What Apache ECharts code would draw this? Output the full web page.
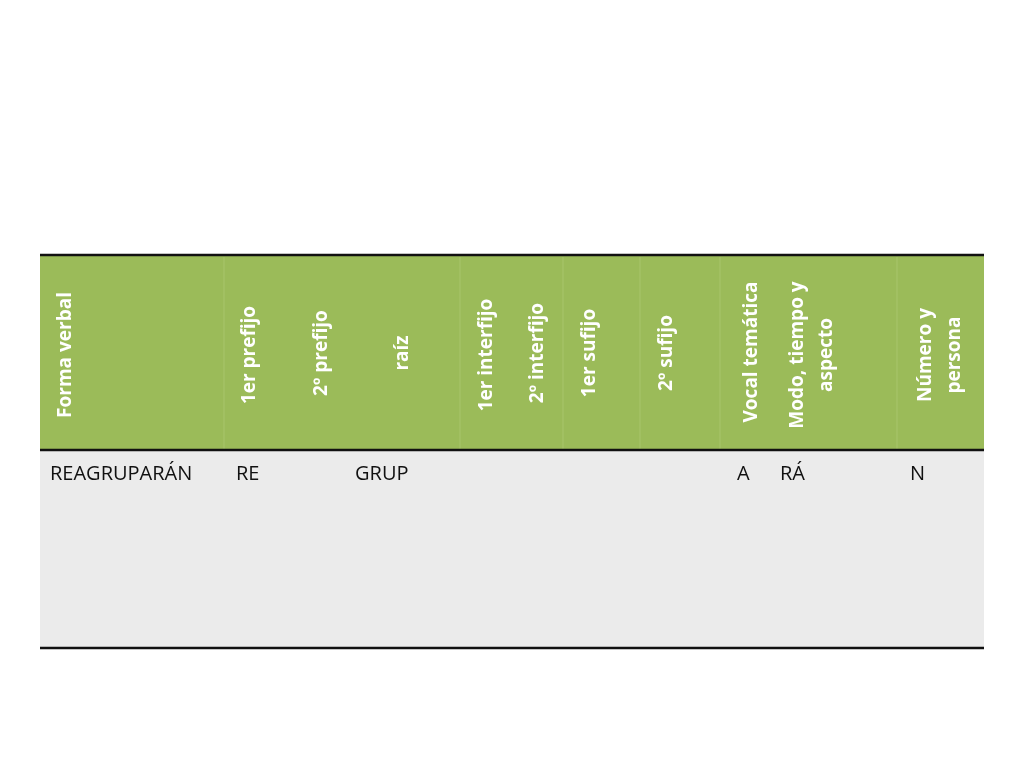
<!DOCTYPE html>
<html><head><meta charset="utf-8">
<script src="https://cdn.jsdelivr.net/npm/echarts@6/dist/echarts.min.js"></script>
<style>html,body{margin:0;background:#fff}#c{width:1024px;height:768px}</style>
</head><body><div id="c"></div>
<script>
const headers = ['Forma verbal','1er prefijo','2º prefijo','raíz','1er interfijo','2º interfijo','1er sufijo','2º sufijo','Vocal temática','Modo, tiempo y\naspecto','Número y\npersona'];
const rowValues = ['REAGRUPARÁN','RE','GRUP','A','RÁ','N'];
// layout (pixels)
const headerPos = [[66,355],[250,355],[322,353],[403,353],[487,355],[538,353],[590,353],[667,353],[752,352],[812,355],[940,355]];
const valuePos = [[50,474],[236,474],[355,474],[737,474],[780,474],[910,474]];
const colLines = [224,460,563,640,720,897];
const chart = echarts.init(document.getElementById('c'));
const g = [];
g.push({type:'rect',shape:{x:40,y:255,width:944,height:195},style:{fill:'#9BBB59'}});
g.push({type:'rect',shape:{x:40,y:450,width:944,height:198},style:{fill:'#EBEBEB'}});
colLines.forEach(x=>g.push({type:'line',shape:{x1:x,y1:257,x2:x,y2:449},style:{stroke:'#A8C56C',lineWidth:1}}));
[255,450,648].forEach(y=>g.push({type:'line',shape:{x1:40,y1:y,x2:984,y2:y},style:{stroke:'#111',lineWidth:2.5}}));
headers.forEach((h,i)=>g.push({type:'text',x:headerPos[i][0],y:headerPos[i][1],rotation:Math.PI/2,
  style:{text:h,fill:'#fff',font:'bold 19px "Open Sans", sans-serif',align:'center',verticalAlign:'middle',lineHeight:29}}));
rowValues.forEach((v,i)=>g.push({type:'text',x:valuePos[i][0],y:valuePos[i][1],
  style:{text:v,fill:'#111',font:'20px "Open Sans", sans-serif',align:'left',verticalAlign:'middle'}}));
chart.setOption({graphic:g});
</script></body></html>
